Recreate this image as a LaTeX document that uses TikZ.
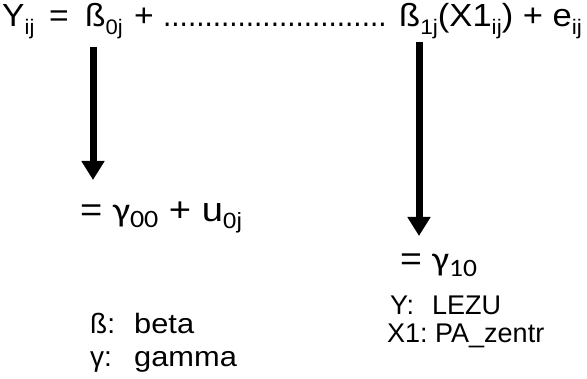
\documentclass[tikz,border=0pt]{standalone}
\usepackage{fontspec}
\usepackage{graphicx}
\setmainfont{Liberation Sans}
\newfontfamily\gfont{Carlito}
\usetikzlibrary{arrows.meta}
\newcommand\lo[1]{\raisebox{-0.22em}{\fontsize{21}{21}\selectfont #1}}
\newcommand\mlo[1]{\raisebox{-0.2em}{\fontsize{22}{22}\selectfont #1}}
\newcommand\glo[1]{\raisebox{-0.15em}{\fontsize{25}{25}\selectfont\gfont #1}}
\newcommand\hs[2]{\scalebox{#1}[1]{#2}}
\tikzset{
  txt/.style={inner sep=0pt, anchor=base west, font=\fontsize{32}{32}\selectfont},
  mid/.style={inner sep=0pt, anchor=base west, font=\fontsize{34}{34}\selectfont},
  legl/.style={inner sep=0pt, anchor=base west, font=\fontsize{28}{28}\selectfont},
  legr/.style={inner sep=0pt, anchor=base west, font=\fontsize{27}{27}\selectfont},
  bigarrow/.style={line width=7pt, -{Triangle[width=22pt,length=19pt]}}
}
\begin{document}
\begin{tikzpicture}[x=1pt,y=-1pt]
\useasboundingbox (0,0) rectangle (587,379);
\node[txt] (y) at (2,27) {\hs{1.05}{Y\lo{ij}}};
\node[txt] (eq) at (49,27) {\hs{1.05}{=}};
\node[txt] (b0) at (85,27) {\hs{1.05}{ß\lo{0j}}};
\node[txt] (p1) at (134,27) {\hs{1.05}{+}};
\node[txt] (dots) at (163,27) {\hs{0.93}{...........................}};
\node[txt] (b1) at (399,27) {\hs{1.08}{ß\lo{1j}(X1\lo{ij}) + e\lo{ij}}};
\coordinate (a1s) at (93,47);
\coordinate (a1e) at (93,180);
\coordinate (a2s) at (419,42);
\coordinate (a2e) at (419,236);
\draw[bigarrow] (a1s) -- (a1e);
\draw[bigarrow] (a2s) -- (a2e);
\node[mid] (g0) at (80,222) {\hs{1.12}{= {\gfont γ}\glo{00} + u\mlo{0j}}};
\node[mid] (g1) at (400,271) {\hs{1.1}{= {\gfont γ}\glo{10}}};
\node[legl] (lb) at (90,334) {ß:};
\node[legl] (lbv) at (134,334) {\hs{1.1}{beta}};
\node[legl] (lg) at (90,367) {γ:};
\node[legl] (lgv) at (134,367) {\hs{1.1}{gamma}};
\node[legr] (ly) at (390,315) {Y:};
\node[legr] (lyv) at (432,315) {LEZU};
\node[legr] (lx) at (387,343) {X1:};
\node[legr] (lxv) at (435,343) {PA\_zentr};
\end{tikzpicture}
\end{document}
